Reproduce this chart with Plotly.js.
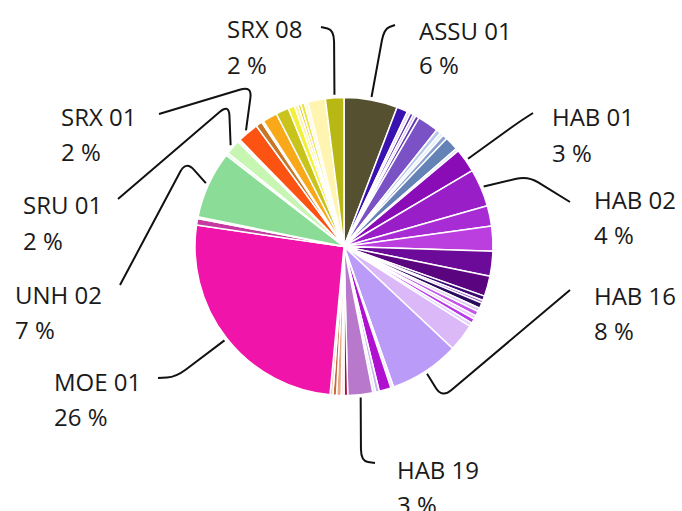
<!DOCTYPE html>
<html><head><meta charset="utf-8">
<script src="https://cdn.plot.ly/plotly-3.0.1.min.js"></script>
<style>html,body{margin:0;padding:0;background:#fff}#chart{width:682px;height:511px}</style>
</head><body><div id="chart"></div>
<script>
const categories = ['ASSU 01','ASSU 02','ASSU 03','ASSU 04','ASSU 05','ASSU 06','ASSU 07','ASSU 08','ASSU 09','ASSU 10','ASSU 11','ASSU 12',
  'HAB 01','HAB 02','HAB 03','HAB 04','HAB 05','HAB 06','HAB 07','HAB 08','HAB 09','HAB 10','HAB 11','HAB 12','HAB 13','HAB 14','HAB 15','HAB 16','HAB 17','HAB 18','HAB 20','HAB 21','HAB 19','HAB 22','HAB 23','HAB 24','HAB 25','HAB 26',
  'MOE 01','MOE 02','MOE 03','UNH 02','UNH 01','SRU 01','SRU 02','SRX 01','SRX 02','SRX 03','SRX 04','SRX 05','SRX 06','SRX 07','SRX 09','SRX 10','SRX 11','SRX 12','SRX 08'];
const values = [5.8,1.2,0.35,0.35,0.3,0.4,2.3,0.5,0.4,0.5,1.5,0.3,
  2.6,4.1,2.2,2.7,2.7,2.2,0.5,0.3,0.6,0.4,0.5,0.4,0.5,0.4,3.0,7.6,0.3,1.3,0.4,0.3,2.7,0.4,0.3,0.5,0.4,0.3,
  25.8,0.7,0.2,7.3,0.3,1.6,0.3,2.3,0.7,0.2,1.6,1.4,0.7,0.4,0.3,0.4,0.4,1.9,2.0];
const colors = ['#55502f','#3a12b0','#e4dcf4','#5a2aa8','#c8b8ec','#6438b4','#7a52c6','#b8c8e8','#e8eef8','#8aa0cc','#6482b6','#dde6f4',
  '#8a0cb6','#9a1ec8','#a82cd4','#bb3ede','#6c0a9a','#5a0480','#3c0a72','#9a5cc8','#2a0a5c','#dccaf2','#c454ea','#ecd0fa','#b83ae6','#e4d4fa','#dbb8f8','#ba9cf8','#eee6fb','#b010d0','#c6b4f0','#ece6f8','#b878cc','#a41044','#f4e6e4','#e6aa86','#c8683e','#f0c8b0',
  '#f014aa','#c43aa0','#f2d4ea','#8adc96','#e6f8e0','#c6f6b2','#f4fbf0','#fc5212','#c67626','#f8e8d0','#f8a818','#c8c41c','#f2f03a','#f8f6a0','#f2c232','#e8e63c','#fffad8','#fff5b0','#b8b814'];
const labelled = ['SRX 08','ASSU 01','SRX 01','HAB 01','SRU 01','HAB 02','UNH 02','HAB 16','MOE 01','HAB 19'];

// label placement (pixels): text left x, first-line centre y, leader start, leader corner
const place = {
  'SRX 08': {x:225, y:29,  s:[321,27],  c:[334,30]},
  'ASSU 01':{x:417, y:30,  s:[395,25],  c:[384,29]},
  'SRX 01': {x:59,  y:116, s:[159,114], c:[252,86]},
  'HAB 01': {x:550, y:117, s:[533,113], c:[519,122]},
  'SRU 01': {x:21,  y:205, s:[118,199], c:[229,104]},
  'HAB 02': {x:592, y:199, s:[570,202], c:[528,176]},
  'UNH 02': {x:13,  y:294, s:[120,285], c:[186,161]},
  'HAB 16': {x:592, y:295, s:[570,290], c:[442,398]},
  'MOE 01': {x:52,  y:381, s:[158,378], c:[176,377]},
  'HAB 19': {x:395, y:469, s:[375,463], c:[361,461]}
};

const W = 682, H = 511;
const CX = 344, CY = 246.5, R = 149;
const px = x => x / W, py = y => 1 - y / H;

const total = values.reduce((a,b)=>a+b,0);
const annotations = [], shapes = [];
let cum = 0;
const mid = {};
values.forEach((v,i)=>{ mid[categories[i]] = (cum + v/2)/total; cum += v; });

const font = {family:'Open Sans, sans-serif', size:24, color:'#1a1a1a'};
labelled.forEach(name=>{
  const i = categories.indexOf(name);
  const p = place[name];
  const pct = Math.round(values[i]/total*100) + ' %';
  annotations.push({xref:'paper',yref:'paper',x:px(p.x),y:py(p.y),text:name,showarrow:false,xanchor:'left',yanchor:'middle',font:font});
  annotations.push({xref:'paper',yref:'paper',x:px(p.x),y:py(p.y+35),text:pct,showarrow:false,xanchor:'left',yanchor:'middle',font:font});
  const th = mid[name]*2*Math.PI;
  const e = [CX + (R+3)*Math.sin(th), CY - (R+3)*Math.cos(th)];
  const s = p.s, c = p.c;
  const rad = 12;
  const n1 = Math.hypot(s[0]-c[0], s[1]-c[1]), n2 = Math.hypot(e[0]-c[0], e[1]-c[1]);
  const k1 = Math.min(rad, n1/2)/n1, k2 = Math.min(rad, n2/2)/n2;
  const p1 = [c[0]+(s[0]-c[0])*k1, c[1]+(s[1]-c[1])*k1];
  const p2 = [c[0]+(e[0]-c[0])*k2, c[1]+(e[1]-c[1])*k2];
  const f = q => px(q[0]).toFixed(5)+','+py(q[1]).toFixed(5);
  shapes.push({type:'path', xref:'paper', yref:'paper',
    path:'M'+f(s)+' L'+f(p1)+' Q'+f(c)+' '+f(p2)+' L'+f(e),
    line:{color:'#111', width:2}});
});

const trace = {
  type:'pie', labels:categories, values:values, sort:false, direction:'clockwise', rotation:0,
  marker:{colors:colors, line:{color:'#ffffff', width:1.5}},
  textinfo:'none', hoverinfo:'skip',
  domain:{x:[px(CX-R), px(CX+R)], y:[py(CY+R), py(CY-R)]}
};
Plotly.newPlot('chart',[trace],{
  width:W, height:H, margin:{l:0,r:0,t:0,b:0}, showlegend:false,
  paper_bgcolor:'#fff', plot_bgcolor:'#fff',
  annotations:annotations, shapes:shapes
},{staticPlot:true});
</script></body></html>
